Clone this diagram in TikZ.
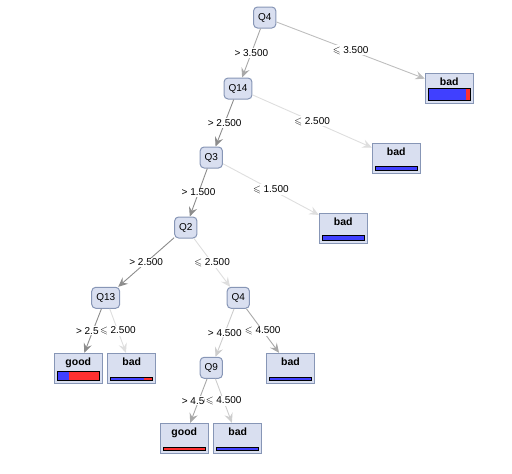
\documentclass[tikz,border=0pt]{standalone}
\usepackage{fontspec}
\usepackage{amssymb}
\setmainfont{Liberation Sans}
\usetikzlibrary{calc,arrows.meta}

\definecolor{nodefill}{RGB}{217,223,240}
\definecolor{nodeline}{RGB}{135,150,182}
\definecolor{barblue}{RGB}{64,64,255}
\definecolor{barred}{RGB}{255,48,48}
\definecolor{edgedark}{RGB}{140,140,140}
\definecolor{edgemid}{RGB}{168,168,168}
\definecolor{edgesoft}{RGB}{190,190,190}
\definecolor{edgepale}{RGB}{205,205,205}
\definecolor{edgelight}{RGB}{222,222,222}

\tikzset{
  splitbox/.style={draw=nodeline, fill=nodefill, rounded corners=4pt, line width=1pt,
    minimum height=21pt, inner xsep=4.5pt, inner ysep=0pt, font=\fontsize{10}{12}\selectfont},
  leafbox/.style={draw=nodeline, fill=nodefill, line width=1pt, minimum width=48pt,
    inner xsep=0pt, inner ysep=2.5pt, text height=9.8pt, text depth=15.2pt,
    font=\fontsize{10.5}{12}\selectfont\bfseries},
  branch/.style={draw=#1, line width=0.9pt, -{Stealth[length=9.5pt,width=8.5pt,inset=3.5pt]}},
  condlbl/.style={fill=white, inner sep=1pt, font=\fontsize{10}{11}\selectfont},
}

% class bar of a leaf: node, blue share, bar height
\newcommand\classbar[3]{%
  \coordinate (#1-bl) at ($(#1.south west)+(3.5,-3.3)$);
  \coordinate (#1-tr) at ($(#1.south east)+(-3.5,-3.3-#3)$);
  \coordinate (#1-m) at ($(#1-bl)!#2!(#1-tr)$);
  \fill[barblue] (#1-bl) rectangle (#1-m |- #1-tr);
  \fill[barred] (#1-m |- #1-bl) rectangle (#1-tr);
  \draw[line width=0.9pt] (#1-bl) rectangle (#1-tr);
}

\begin{document}
\begin{tikzpicture}[x=1pt,y=-1pt]
\useasboundingbox (0,0) rectangle (512,474);

%split nodes
\node[splitbox] (q4)  at (264.7,17.5)  {Q4};
\node[splitbox] (q14) at (238,88.5)    {Q14};
\node[splitbox] (q3)  at (211.3,157.5) {Q3};
\node[splitbox] (q2)  at (185.8,227.5) {Q2};
\node[splitbox] (q13) at (105.7,297.8) {Q13};
\node[splitbox] (q4b) at (238.3,297.8) {Q4};
\node[splitbox] (q9)  at (211.3,367.8) {Q9};

%leaves
\node[leafbox] (bad1)  at (449.3,88)    {bad};
\node[leafbox] (bad2)  at (396.3,158.3) {bad};
\node[leafbox] (bad3)  at (343.3,228)   {bad};
\node[leafbox] (good1) at (78.3,368.3)  {good};
\node[leafbox] (bad4)  at (131.7,368.3) {bad};
\node[leafbox] (bad5)  at (290.5,368.3) {bad};
\node[leafbox] (good2) at (184.3,438.3) {good};
\node[leafbox] (bad6)  at (237.7,438.3) {bad};

\classbar{bad1}{0.9}{11.7}
\classbar{bad2}{1}{4}
\classbar{bad3}{1}{4.3}
\classbar{good1}{0.27}{9.5}
\classbar{bad4}{0.79}{3}
\classbar{bad5}{1}{3.5}
\classbar{good2}{0}{3.5}
\classbar{bad6}{1}{3.5}

%branches
\draw[branch=edgemid]   (q4)  -- node[condlbl] {> 3.500} (q14);
\draw[branch=edgesoft]  (q4)  -- node[condlbl] {$\leqslant$ 3.500} (bad1);
\draw[branch=edgedark]  (q14) -- node[condlbl] {> 2.500} (q3);
\draw[branch=edgelight] (q14) -- node[condlbl] {$\leqslant$ 2.500} (bad2);
\draw[branch=edgedark]  (q3)  -- node[condlbl] {> 1.500} (q2);
\draw[branch=edgelight] (q3)  -- node[condlbl] {$\leqslant$ 1.500} (bad3);
\draw[branch=edgedark]  (q2)  -- node[condlbl] {> 2.500} (q13);
\draw[branch=edgelight] (q2)  -- node[condlbl] {$\leqslant$ 2.500} (q4b);
\draw[branch=edgedark]  (q13) -- node[condlbl] {> 2.500} (good1);
\draw[branch=edgelight] (q13) -- node[condlbl] {$\leqslant$ 2.500} (bad4);
\draw[branch=edgepale]  (q4b) -- node[condlbl] {> 4.500} (q9);
\draw[branch=edgemid]   (q4b) -- node[condlbl] {$\leqslant$ 4.500} (bad5);
\draw[branch=edgemid]   (q9)  -- node[condlbl] {> 4.500} (good2);
\draw[branch=edgepale]  (q9)  -- node[condlbl] {$\leqslant$ 4.500} (bad6);

\end{tikzpicture}
\end{document}
